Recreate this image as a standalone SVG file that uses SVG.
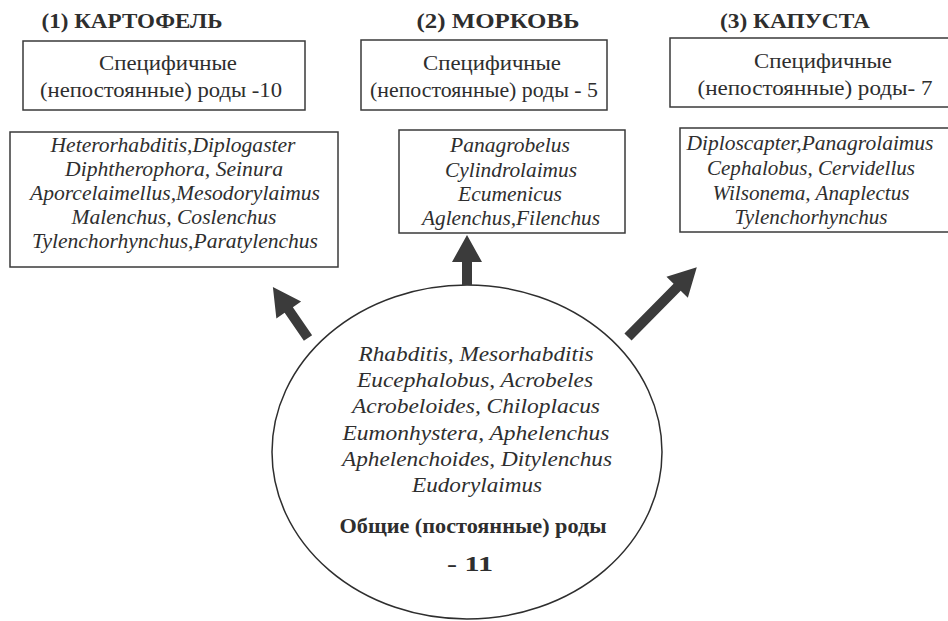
<svg xmlns="http://www.w3.org/2000/svg" width="948" height="621" viewBox="0 0 948 621">
<style>
text{font-family:'Liberation Serif','Times New Roman',serif;fill:#2e2e2e;text-anchor:middle}
.title{font-weight:bold;font-size:21px}
.hdr{font-size:21px}
.sp{font-style:italic;font-size:20px}
.bold{font-weight:bold;font-size:21px}
.box{fill:#fff;stroke:#3a3a3a;stroke-width:1.5}
.arrow{fill:#3b3b3b}
</style>
<rect width="948" height="621" fill="#fff"/>
<g id="title1"><text class="title" x="132" y="28" textLength="181" lengthAdjust="spacingAndGlyphs">(1) КАРТОФЕЛЬ</text></g>
<g id="title2"><text class="title" x="498" y="28" textLength="163" lengthAdjust="spacingAndGlyphs">(2) МОРКОВЬ</text></g>
<g id="title3"><text class="title" x="795" y="28" textLength="150" lengthAdjust="spacingAndGlyphs">(3) КАПУСТА</text></g>
<g id="hdr1"><rect class="box" x="23" y="41" width="282" height="69"/>
<text class="hdr" x="168" y="70" textLength="138" lengthAdjust="spacingAndGlyphs">Специфичные</text>
<text class="hdr" x="161" y="97" textLength="242" lengthAdjust="spacingAndGlyphs">(непостоянные) роды -10</text></g>
<g id="hdr2"><rect class="box" x="361" y="40" width="246" height="70"/>
<text class="hdr" x="492" y="70" textLength="138" lengthAdjust="spacingAndGlyphs">Специфичные</text>
<text class="hdr" x="484" y="97" textLength="228" lengthAdjust="spacingAndGlyphs">(непостоянные) роды - 5</text></g>
<g id="hdr3"><rect class="box" x="670" y="38" width="290" height="69"/>
<text class="hdr" x="823" y="68" textLength="138" lengthAdjust="spacingAndGlyphs">Специфичные</text>
<text class="hdr" x="815" y="95" textLength="235" lengthAdjust="spacingAndGlyphs">(непостоянные) роды- 7</text></g>
<g id="sp1"><rect class="box" x="10" y="132" width="328" height="135"/>
<text class="sp" x="173" y="152" textLength="245" lengthAdjust="spacingAndGlyphs">Heterorhabditis,Diplogaster</text>
<text class="sp" x="174" y="176" textLength="218" lengthAdjust="spacingAndGlyphs">Diphtherophora, Seinura</text>
<text class="sp" x="175" y="200" textLength="290" lengthAdjust="spacingAndGlyphs">Aporcelaimellus,Mesodorylaimus</text>
<text class="sp" x="174" y="224" textLength="205" lengthAdjust="spacingAndGlyphs">Malenchus, Coslenchus</text>
<text class="sp" x="175" y="248" textLength="286" lengthAdjust="spacingAndGlyphs">Tylenchorhynchus,Paratylenchus</text></g>
<g id="sp2"><rect class="box" x="399" y="130" width="226" height="103"/>
<text class="sp" x="510" y="152" textLength="120" lengthAdjust="spacingAndGlyphs">Panagrobelus</text>
<text class="sp" x="511" y="177" textLength="132" lengthAdjust="spacingAndGlyphs">Cylindrolaimus</text>
<text class="sp" x="510" y="201" textLength="104" lengthAdjust="spacingAndGlyphs">Ecumenicus</text>
<text class="sp" x="511" y="225" textLength="178" lengthAdjust="spacingAndGlyphs">Aglenchus,Filenchus</text></g>
<g id="sp3"><rect class="box" x="680" y="128" width="280" height="104"/>
<text class="sp" x="810" y="150" textLength="247" lengthAdjust="spacingAndGlyphs">Diploscapter,Panagrolaimus</text>
<text class="sp" x="811" y="175" textLength="208" lengthAdjust="spacingAndGlyphs">Cephalobus, Cervidellus</text>
<text class="sp" x="811" y="200" textLength="197" lengthAdjust="spacingAndGlyphs">Wilsonema, Anaplectus</text>
<text class="sp" x="811" y="224" textLength="153" lengthAdjust="spacingAndGlyphs">Tylenchorhynchus</text></g>
<g id="common"><ellipse cx="467" cy="452" rx="195" ry="167" fill="#fff" stroke="#2e2e2e" stroke-width="1.5"/>
<text class="sp" x="476" y="361" textLength="235" lengthAdjust="spacingAndGlyphs">Rhabditis, Mesorhabditis</text>
<text class="sp" x="475" y="387" textLength="236" lengthAdjust="spacingAndGlyphs">Eucephalobus, Acrobeles</text>
<text class="sp" x="476" y="413" textLength="248" lengthAdjust="spacingAndGlyphs">Acrobeloides, Chiloplacus</text>
<text class="sp" x="476" y="440" textLength="267" lengthAdjust="spacingAndGlyphs">Eumonhystera, Aphelenchus</text>
<text class="sp" x="477" y="466" textLength="270" lengthAdjust="spacingAndGlyphs">Aphelenchoides, Ditylenchus</text>
<text class="sp" x="477" y="492" textLength="130" lengthAdjust="spacingAndGlyphs">Eudorylaimus</text>
<text class="bold" x="473" y="533" textLength="267" lengthAdjust="spacingAndGlyphs">Общие (постоянные) роды</text>
<text class="bold" x="470" y="571" textLength="46" lengthAdjust="spacingAndGlyphs">- 11</text></g>
<g id="connectors">
<polygon class="arrow" transform="translate(308,338) rotate(-124.5)" points="0,-5 34,-5 34,-15 62,0 34,15 34,5 0,5"/>
<polygon class="arrow" transform="translate(467,285) rotate(-90)" points="0,-5 23,-5 23,-15 50,0 23,15 23,5 0,5"/>
<polygon class="arrow" transform="translate(628,337) rotate(-45.4)" points="0,-5 70,-5 70,-15 98,0 70,15 70,5 0,5"/>
</g>
</svg>
